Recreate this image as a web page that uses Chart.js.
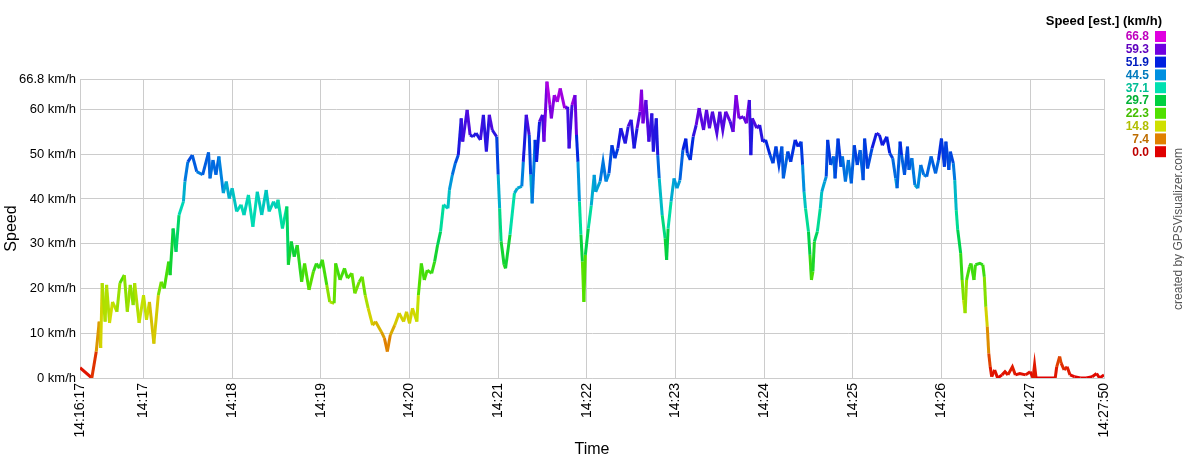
<!DOCTYPE html>
<html>
<head>
<meta charset="utf-8">
<script src="https://cdn.jsdelivr.net/npm/chart.js@4.4.1/dist/chart.umd.min.js"></script>
<style>
  html, body { margin: 0; padding: 0; background: #fff; }
  #wrap { position: relative; width: 1184px; height: 460px; }
</style>
</head>
<body>
<div id="wrap"><canvas id="speedChart"></canvas></div>
<script>
// seconds since 14:16:17
const times = [0,8,11,13,14,15,17,18,20,22,25,27,30,32,34,36,37,40,43,45,47,50,53,55,57,60,61,63,65,67,70,71,73,76,79,83,87,88,90,92,94,97,99,101,103,106,109,111,114,117,120,123,126,128,131,133,134,137,140,141,143,145,147,150,152,155,158,160,162,164,167,169,172,173,176,179,181,184,186,189,191,193,195,198,200,204,206,208,210,213,216,219,221,223,225,228,229,231,233,235,238,240,242,244,246,249,250,252,254,256,258,259,262,264,266,268,271,273,275,277,279,282,283,284,285,287,288,291,294,296,299,300,302,304,305,306,308,309,311,313,314,316,318,319,321,323,325,328,330,331,333,335,336,337,338,339,340,341,342,344,346,348,349,352,354,356,358,360,362,364,366,369,371,373,375,377,379,380,381,383,385,387,388,390,391,392,394,396,397,398,400,402,404,406,408,410,411,413,415,417,419,422,424,426,428,431,433,435,437,440,442,444,446,449,451,453,454,455,458,460,462,464,467,469,471,473,475,476,479,481,484,486,488,489,490,491,493,494,495,496,497,499,501,502,504,505,506,508,510,511,513,515,516,518,520,522,524,526,528,530,531,533,536,539,541,543,546,548,550,552,553,555,556,558,560,561,563,565,567,569,571,573,576,579,581,583,585,586,588,589,591,592,593,594,596,597,598,599,600,602,603,605,606,609,611,612,613,614,615,616,617,619,621,624,626,628,631,633,636,640,643,645,646,647,654,660,661,663,664,666,668,670,673,677,681,685,688,690,693];
// km/h
const speeds = [2.3,0,5.9,12.6,6.7,21.2,12.6,20.8,12.3,17,14.8,21.2,23,14.8,20.8,16.3,21.2,12.3,18.5,13,17,7.7,18.5,21.5,20,26,23,33.4,28.2,36.4,39.4,43.9,48.3,49.8,46.1,45.4,50.4,44.6,48.7,45.4,49.5,41.3,43.9,40.1,42.4,37.2,38.7,36.4,40.9,33.8,41.6,36.4,42,37.2,39.4,37.9,39.8,33.4,38.3,25.3,30.5,27.1,29.7,21.5,25.6,19.7,23.8,25.6,24.5,26.4,20.8,17,16.7,25.6,21.9,24.5,22.3,23.4,18.9,21.5,22.6,18.5,15.6,11.8,12.6,10.3,8.9,5.9,9.6,11.8,14.5,12.6,14.8,12.2,15.6,12.6,18.5,25.6,21.9,24.1,23.4,26,29.7,32.7,38.7,37.9,42,45.4,48,49.8,58,52.8,59.9,54.3,53.9,54.7,53.2,58.8,50.6,58.8,55.4,53.9,45.4,37.9,30.5,25.3,24.5,32,41.3,42.4,42.8,48.3,58.8,54.3,45.4,39,53.2,48.3,57.3,58.8,52.8,66.2,61,58,63.2,61.7,64.7,60.3,60.6,51.3,61,63.2,54.3,48.3,39.4,32,26,17,27.5,33.4,38.5,45.4,41.6,43.9,48.3,43.9,45.7,52,49.1,51.3,55.8,52.4,56.2,57.7,51.3,55.8,59.5,64.4,56.9,62.1,52.8,59.1,50.6,58,49.8,44.6,36.4,31.2,26.4,33.4,39.4,44.6,42.4,44.2,50.9,53.5,50.2,48.7,53.9,56.5,60.3,55.4,59.9,55.8,59.5,54.7,59.5,55.4,59.5,57.3,55,63.2,58,58.4,56.9,62.1,49.8,58,55.8,56.5,52.8,53.2,49.8,48,51.7,47.6,51.7,44.6,50.6,48.3,53.2,51.7,52.8,47.6,41.6,37.9,32.7,27.5,21.9,23.8,30.5,32.7,37.9,41.6,43.9,45,53.2,47.6,49.5,44.6,53.5,47.2,49.5,43.9,48.7,43.5,52,47.6,50.9,44.2,53.5,46.8,51.3,54.7,54.3,52,53.9,50.2,49.1,44.6,42.4,52.8,49.8,45.4,51.7,46.5,49.1,43.1,42.4,47.6,45.4,45,49.5,45.7,48.7,53.5,47.2,52.8,46.5,50.6,48,44.2,37.5,33.1,27.9,21.9,17.4,14.5,21.9,24.9,25.6,21.9,25.3,25.6,25.3,22.6,15.9,11.5,5.5,2.5,0.3,1.8,0,0.7,1.4,0.7,2.5,0.7,1,0.7,1.4,0,2.9,0,0,0,2.5,4.8,3.3,1.8,2.5,0.7,0.3,0,0,0.3,1,0,0.7];

const startSec = 14 * 3600 + 16 * 60 + 17;
const xTicks = [0, 43, 103, 163, 223, 283, 343, 403, 463, 523, 583, 643, 693];
const yTicks = [0, 10, 20, 30, 40, 50, 60, 66.8];

const legendValues = [66.8, 59.3, 51.9, 44.5, 37.1, 29.7, 22.3, 14.8, 7.4, 0.0];
const legendColors = ['#e000e0', '#7000e0', '#0020e0', '#0090e0', '#00e0b0', '#00d040', '#50e000', '#d0e000', '#e08000', '#e00000'];

const FONT = 'Arial, "Liberation Sans", sans-serif';

function hexToRgb(h) {
  return [parseInt(h.slice(1, 3), 16), parseInt(h.slice(3, 5), 16), parseInt(h.slice(5, 7), 16)];
}

const stops = legendValues.map((v, i) => ({ v, c: hexToRgb(legendColors[i]) })).reverse();

function speedColor(v) {
  if (v <= stops[0].v) return 'rgb(' + stops[0].c.join(',') + ')';
  for (let i = 1; i < stops.length; i++) {
    if (v <= stops[i].v) {
      const a = stops[i - 1], b = stops[i];
      const f = (v - a.v) / (b.v - a.v);
      const c = a.c.map((x, k) => Math.round(x + (b.c[k] - x) * f));
      return 'rgb(' + c.join(',') + ')';
    }
  }
  return 'rgb(' + stops[stops.length - 1].c.join(',') + ')';
}

function darker(hex) {
  return 'rgb(' + hexToRgb(hex).map((x) => Math.round(x * 0.85)).join(',') + ')';
}

function timeLabel(t) {
  const s = startSec + t;
  const hh = Math.floor(s / 3600);
  const mm = String(Math.floor((s % 3600) / 60)).padStart(2, '0');
  const ss = String(s % 60).padStart(2, '0');
  if (t === 0 || t === 693) return hh + ':' + mm + ':' + ss;
  return hh + ':' + mm;
}

const speedLegend = {
  id: 'speedLegend',
  afterDraw(chart) {
    const ctx = chart.ctx;
    ctx.save();
    ctx.textBaseline = 'middle';
    ctx.textAlign = 'right';
    ctx.font = 'bold 13px ' + FONT;
    ctx.fillStyle = '#000';
    ctx.fillText('Speed [est.] (km/h)', 1162, 21);
    ctx.font = 'bold 12px ' + FONT;
    legendValues.forEach((v, i) => {
      const y = 36 + i * 12.8;
      ctx.fillStyle = darker(legendColors[i]);
      ctx.fillText(v.toFixed(1), 1149, y + 1);
      ctx.fillStyle = legendColors[i];
      ctx.fillRect(1155, y - 5, 11, 11);
    });
    ctx.translate(1179, 229);
    ctx.rotate(-Math.PI / 2);
    ctx.textAlign = 'center';
    ctx.font = '12px ' + FONT;
    ctx.fillStyle = '#555';
    ctx.fillText('created by GPSVisualizer.com', 0, 0);
    ctx.restore();
  },
};

Chart.defaults.font.family = FONT;
Chart.defaults.color = '#000';

new Chart(document.getElementById('speedChart'), {
  type: 'line',
  data: {
    datasets: [{
      data: times.map((t, i) => ({ x: t, y: speeds[i] })),
      borderWidth: 3,
      borderJoinStyle: 'miter',
      pointRadius: 0,
      tension: 0,
      borderColor: '#0020e0',
      segment: {
        borderColor: (c) => speedColor((c.p0.parsed.y + c.p1.parsed.y) / 2),
      },
    }],
  },
  options: {
    responsive: true,
    maintainAspectRatio: false,
    animation: false,
    layout: { padding: { top: 79, right: 80, left: 0, bottom: 0 } },
    plugins: { legend: { display: false }, tooltip: { enabled: false } },
    scales: {
      x: {
        type: 'linear',
        min: 0,
        max: 693,
        afterBuildTicks: (s) => { s.ticks = xTicks.map((v) => ({ value: v })); },
        afterFit: (s) => { s.height = 82; },
        grid: { color: '#cccccc', drawTicks: false },
        border: { color: '#cccccc' },
        ticks: {
          autoSkip: false,
          maxRotation: 90,
          minRotation: 90,
          padding: 5,
          font: { size: 14 },
          callback: (v) => timeLabel(v),
        },
        title: { display: true, text: 'Time', font: { size: 16 }, padding: { top: 0, bottom: 1 } },
      },
      y: {
        min: 0,
        max: 66.8,
        afterBuildTicks: (s) => { s.ticks = yTicks.map((v) => ({ value: v })); },
        afterFit: (s) => { s.width = 80; },
        grid: { color: '#cccccc', drawTicks: false },
        border: { color: '#cccccc' },
        ticks: {
          padding: 4,
          font: { size: 13 },
          callback: (v) => v + ' km/h',
        },
        title: { display: true, text: 'Speed', font: { size: 16 }, padding: { top: 2, bottom: 0 } },
      },
    },
  },
  plugins: [speedLegend],
});
</script>
</body>
</html>
